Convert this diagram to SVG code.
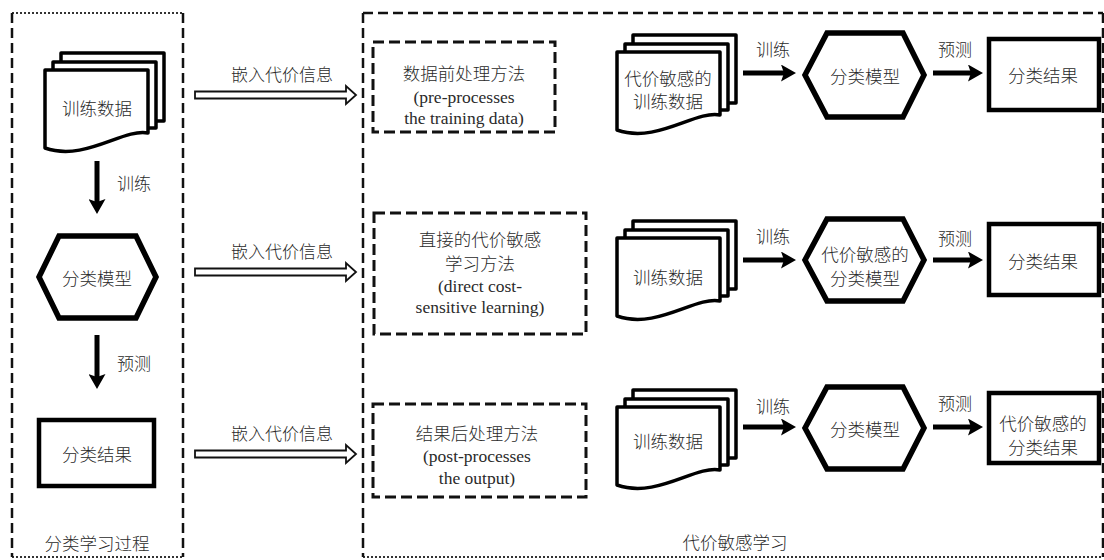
<svg xmlns="http://www.w3.org/2000/svg" width="1104" height="560" viewBox="0 0 1104 560">
  <defs>
    <style>
      .zh { font-family: "Noto Sans CJK SC", "Noto Sans", sans-serif; font-size: 17.5px; font-weight: 300; fill: #2a2a2a; text-anchor: middle; dominant-baseline: central; }
      .en { font-family: "Liberation Serif", "Noto Sans CJK SC", serif; font-size: 17.5px; fill: #2a2a2a; text-anchor: middle; dominant-baseline: central; }
      .zhs { font-family: "Noto Sans CJK SC", "Noto Sans", sans-serif; font-size: 17px; font-weight: 300; fill: #2a2a2a; text-anchor: middle; dominant-baseline: central; }
      .frame { fill: none; stroke: #111; stroke-width: 2.5; stroke-dasharray: 10 5; }
      .fine { fill: none; stroke: #333; stroke-width: 2; stroke-dasharray: 2 2; }
      .method { fill: #fff; stroke: #111; stroke-width: 3; stroke-dasharray: 11 5; }
      .doc { fill: #fff; stroke: #000; stroke-width: 3.5; stroke-linejoin: round; }
      .hex { fill: #fff; stroke: #000; stroke-width: 5.5; stroke-linejoin: miter; }
      .res { fill: #fff; stroke: #000; stroke-width: 4.5; }
      .flow { stroke: #000; stroke-width: 5; fill: none; marker-end: url(#head); }
      .hollow { fill: #fff; stroke: #111; stroke-width: 1.8; stroke-linejoin: miter; }
    </style>
    <marker id="head" viewBox="0 0 15 17" markerWidth="15" markerHeight="17" refX="6" refY="8.5" orient="auto" markerUnits="userSpaceOnUse">
      <path d="M0,0 L15,8.5 L0,17 L3,8.5 z" fill="#000"/>
    </marker>
    <!-- stacked document icon, front sheet origin at 0,0 -->
    <g id="docstack">
      <path class="doc" d="M16,-17 H119 V51 H16 z"/>
      <path class="doc" d="M8,-8 H111 V58 H8 z"/>
      <path class="doc" d="M0,0 H103 V63 C78,58 40,92 0,78 z"/>
    </g>
  </defs>

  <rect width="1104" height="560" fill="#fff"/>

  <!-- panel frames -->
  <g id="frames">
    <line class="fine" x1="12" y1="13" x2="183" y2="13"/>
    <line class="fine" x1="12" y1="557" x2="183" y2="557"/>
    <line class="frame" x1="12" y1="13" x2="12" y2="557"/>
    <line class="frame" x1="183" y1="13" x2="183" y2="557"/>
    <line class="frame" x1="363" y1="13" x2="1103" y2="13"/>
    <line class="fine" x1="363" y1="557" x2="1103" y2="557"/>
    <line class="frame" x1="363" y1="13" x2="363" y2="557"/>
    <line class="frame" x1="1103" y1="13" x2="1103" y2="557"/>
    <text class="zh" x="97" y="542">分类学习过程</text>
    <text class="zh" x="735" y="541">代价敏感学习</text>
  </g>

  <!-- left column: plain classification -->
  <g id="train-data">
    <use href="#docstack" x="45" y="70"/>
    <text class="zh" x="97" y="107">训练数据</text>
  </g>
  <g id="model">
    <polygon class="hex" points="39,277 59,236 136,236 156,277 136,318 59,318"/>
    <text class="zh" x="97" y="277">分类模型</text>
  </g>
  <g id="result">
    <rect class="res" x="39" y="420" width="115" height="66"/>
    <text class="zh" x="97" y="453">分类结果</text>
  </g>

  <!-- cost-sensitive methods -->
  <g id="pre-method">
    <rect class="method" x="373" y="42" width="182" height="90"/>
    <text class="zh" x="464" y="72">数据前处理方法</text>
    <text class="en" x="464" y="97">(pre-processes</text>
    <text class="en" x="464" y="118">the training data)</text>
  </g>
  <g id="direct-method">
    <rect class="method" x="374" y="213" width="212" height="121"/>
    <text class="zh" x="480" y="238">直接的代价敏感</text>
    <text class="zh" x="480" y="262">学习方法</text>
    <text class="en" x="480" y="286">(direct cost-</text>
    <text class="en" x="480" y="307">sensitive learning)</text>
  </g>
  <g id="post-method">
    <rect class="method" x="373" y="404" width="213" height="93"/>
    <text class="zh" x="477" y="432">结果后处理方法</text>
    <text class="en" x="477" y="456">(post-processes</text>
    <text class="en" x="477" y="478">the output)</text>
  </g>

  <!-- row 1 -->
  <g id="cs-train-data">
    <use href="#docstack" x="617" y="52"/>
    <text class="zh" x="668" y="77">代价敏感的</text>
    <text class="zh" x="668" y="100">训练数据</text>
  </g>
  <g id="model-1">
    <polygon class="hex" points="805,75 827,33 903,33 924,75 903,117 827,117"/>
    <text class="zh" x="865" y="75">分类模型</text>
  </g>
  <g id="result-1">
    <rect class="res" x="989" y="39" width="110" height="71"/>
    <text class="zh" x="1043" y="74">分类结果</text>
  </g>

  <!-- row 2 -->
  <g id="train-data-2">
    <use href="#docstack" x="617" y="238"/>
    <text class="zh" x="668" y="276">训练数据</text>
  </g>
  <g id="cs-model">
    <polygon class="hex" points="805,260 827,219 903,219 924,260 903,301 827,301"/>
    <text class="zh" x="865" y="253">代价敏感的</text>
    <text class="zh" x="865" y="277">分类模型</text>
  </g>
  <g id="result-2">
    <rect class="res" x="989" y="224" width="110" height="71"/>
    <text class="zh" x="1043" y="260">分类结果</text>
  </g>

  <!-- row 3 -->
  <g id="train-data-3">
    <use href="#docstack" x="617" y="407"/>
    <text class="zh" x="668" y="440">训练数据</text>
  </g>
  <g id="model-3">
    <polygon class="hex" points="805,428 827,387 903,387 924,428 903,469 827,469"/>
    <text class="zh" x="865" y="428">分类模型</text>
  </g>
  <g id="cs-result">
    <rect class="res" x="989" y="393" width="110" height="70"/>
    <text class="zh" x="1043" y="422">代价敏感的</text>
    <text class="zh" x="1043" y="446">分类结果</text>
  </g>

  <!-- connectors -->
  <g id="connectors">
    <line class="flow" x1="97" y1="161" x2="97" y2="205"/>
    <text class="zhs" x="134" y="182">训练</text>
    <line class="flow" x1="97" y1="335" x2="97" y2="380"/>
    <text class="zhs" x="134" y="362">预测</text>

    <polygon class="hollow" points="195,91.5 346,91.5 346,86 356,95 346,104 346,98.5 195,98.5"/>
    <text class="zhs" x="282" y="73">嵌入代价信息</text>
    <polygon class="hollow" points="195,268.5 346,268.5 346,263 356,272 346,281 346,275.5 195,275.5"/>
    <text class="zhs" x="282" y="250">嵌入代价信息</text>
    <polygon class="hollow" points="195,450.5 346,450.5 346,445 356,454 346,463 346,457.5 195,457.5"/>
    <text class="zhs" x="282" y="432">嵌入代价信息</text>

    <line class="flow" x1="743" y1="73" x2="787" y2="73"/>
    <text class="zhs" x="773" y="48">训练</text>
    <line class="flow" x1="933" y1="73" x2="974" y2="73"/>
    <text class="zhs" x="955" y="48">预测</text>

    <line class="flow" x1="743" y1="260" x2="787" y2="260"/>
    <text class="zhs" x="773" y="235">训练</text>
    <line class="flow" x1="933" y1="260" x2="974" y2="260"/>
    <text class="zhs" x="955" y="237">预测</text>

    <line class="flow" x1="743" y1="427" x2="787" y2="427"/>
    <text class="zhs" x="773" y="405">训练</text>
    <line class="flow" x1="933" y1="427" x2="974" y2="427"/>
    <text class="zhs" x="955" y="402">预测</text>
  </g>
</svg>
